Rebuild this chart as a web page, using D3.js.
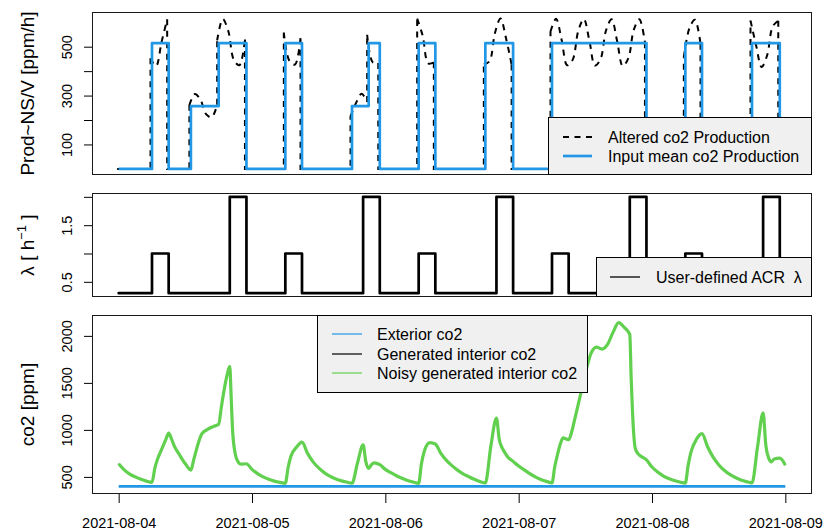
<!DOCTYPE html>
<html><head><meta charset="utf-8">
<script src="https://cdn.jsdelivr.net/npm/d3@7"></script>
<style>
body{margin:0;background:#fff}
svg{display:block}
text{font-family:"Liberation Sans",Arial,Helvetica,sans-serif;fill:#000}
</style>
</head><body>
<svg id="c" width="833" height="531"></svg>
<script>
// ---------------- DATA (hours since 2021-08-04 00:00 UTC) ----------------
const dayTickLabels = ["2021-08-04","2021-08-05","2021-08-06","2021-08-07","2021-08-08","2021-08-09"];

// Input mean CO2 production (step function, value holds from hour until next hour)
const prodStepHours  = [0,6,9,13,18,23,30,33,42,45,47,54,57,66,71,78,95,102,105,114,119,120];
const prodStepValues = [0,515,0,257,515,0,515,0,257,515,0,515,0,515,0,515,0,515,0,515,0];

// Altered CO2 production: runs starting at given hour, hourly values
const alteredRunStart = [6,13,18,30,42,45,54,66,78,102,114];
const alteredRunValues = [
  [453,421,520,612],
  [261,306,283,224,211,262],
  [526,613,564,446,424,529],
  [558,442,427,535],
  [215,270,307,274],
  [549,436,433],
  [615,544,432,436],
  [428,440,556,615,534,427],
  [562,614,528,424,447,565,613,525,423,449,567,612,522,421,452,570,612,518],
  [457,575,610,512],
  [607,506,417,465,583,606]
];

// User-defined air change rate lambda (step function)
const lambdaStepHours  = [0,6,9,20,23,30,33,44,47,54,57,68,71,78,81,92,95,102,105,116,119,120];
const lambdaStepValues = [0.3,1,0.3,2,0.3,1,0.3,2,0.3,1,0.3,2,0.3,1,0.3,2,0.3,1,0.3,2,0.3];

// Exterior CO2
const exteriorHours  = [0,120];
const exteriorValues = [400,400];

// Generated interior CO2
const co2Hours = [0,1,2,3,4,5,6, 6.5,7,7.5,8,8.5,9, 9.5,10,11,12,13, 13.5,14,14.5,15,16,17,18,
  18.5,19,19.5,20,20.25,20.5,21,21.5,22,23, 24,25,26,27,28,29,30, 30.5,31,32,33,
  34,35,36,37,38,39,40,41,42, 43,44,44.5,45,45.5,46,47, 48,49,50,51,52,53,54,
  54.5,55,56,57, 58,59,60,61,62,63,64,65,66, 67,68,68.5,69,69.5,70,71,
  72,73,74,75,76,77,78, 78.5,79,79.5,80,80.5,81,81.5,82,83,84,85,86,87,88,89,90,91,92,
  92.25,92.5,93,93.5,94,95, 96,97,98,99,100,101,102, 102.5,103,104,105,
  106,107,108,109,110,111,112,113,114, 115,116,116.5,117,117.5,118,119,120];
const co2Values = [640,575,530,500,475,455,442, 590,690,760,830,900,965, 905,830,730,640,572,
  680,790,890,960,1005,1035,1060, 1250,1430,1580,1675,1350,1000,740,660,635,640,
  580,535,500,475,455,442,432, 600,720,815,870, 750,660,595,545,508,480,460,445,433,
  650,840,660,590,630,650,630, 580,545,512,485,462,445,432, 640,770,865,850,
  750,675,620,572,533,503,475,452,435, 830,1125,900,810,760,715,665,
  615,575,535,500,472,452,437, 610,740,850,915,905,895,970,1090,1340,1600,1810,1880,1860,1910,2040,2140,2090,2015,
  1550,1180,800,745,720,680, 605,552,512,483,462,446,434, 620,760,900,960,
  820,710,630,570,526,493,468,450,437, 820,1180,830,700,660,690,700,625];

// Axis ticks
const topTicks = [100,200,300,400,500], topLabeled = [100,300,500];
const midTicks = [0.5,1,1.5,2], midLabeled = [0.5,1.5];
const botTicks = [500,1000,1500,2000], botLabeled = [500,1000,1500,2000];

// ---------------- DRAWING ----------------
const BLUE = "#2297E6", GREEN = "#61D04F";
const svg = d3.select("#c");
const T0 = Date.UTC(2021,7,4), HMS = 3600e3;
const hd = h => new Date(T0 + h*HMS);
const L = 92, R = 812;
const x = d3.scaleUtc().domain([hd(-4.8), hd(124.8)]).range([L, R]);

const P = {top:[12,175], mid:[193,297], bot:[315,494]};
const yTop = d3.scaleLinear().domain([-25,642]).range([P.top[1], P.top[0]]);
const yMid = d3.scaleLinear().domain([0.232,2.068]).range([P.mid[1], P.mid[0]]);
const yBot = d3.scaleLinear().domain([318,2222]).range([P.bot[1], P.bot[0]]);

const defs = svg.append("defs");
function panel(name, [t,b]) {
  defs.append("clipPath").attr("id","clip-"+name)
    .append("rect").attr("x",L).attr("y",t).attr("width",R-L).attr("height",b-t);
  return svg.append("g").attr("clip-path",`url(#clip-${name})`);
}
function box([t,b]) {
  svg.append("rect").attr("x",L+0.5).attr("y",t+0.5).attr("width",R-L-1).attr("height",b-t-1)
    .attr("fill","none").attr("stroke","#1a1a1a").attr("stroke-width",1);
}
function yAxis(scale, ticks, labeled) {
  const g = svg.append("g").attr("transform",`translate(${L},0)`)
    .call(d3.axisLeft(scale).tickValues(ticks).tickSize(8).tickPadding(0)
      .tickFormat(d => labeled.includes(d) ? String(d) : ""));
  g.attr("font-family",null).attr("font-size",null);
  g.select(".domain").remove();
  g.selectAll(".tick line").attr("stroke","#000");
  g.selectAll(".tick text").attr("transform","rotate(-90)").attr("x",0).attr("y",-20)
    .attr("dy",0).attr("text-anchor","middle").style("font-size","14.5px").attr("fill","#000");
}
function yTitle(txt, cy) {
  return svg.append("text").attr("transform",`translate(34,${cy}) rotate(-90)`)
    .attr("text-anchor","middle").style("font-size","19px").text(txt);
}

const lineT = (ys, curve) => d3.line().x(d => x(hd(d[0]))).y(d => ys(d[1])).curve(curve || d3.curveLinear);

// ---- Top panel ----
const gTop = panel("top", P.top);
// altered production (dashed)
const runs = alteredRunStart.map((s,i) => ({s, vals: alteredRunValues[i], e: s + alteredRunValues[i].length - 1}));
const pieces = [];
let cur = [[0,0]];
runs.forEach((r,i) => {
  const prev = runs[i-1];
  if (prev && prev.e === r.s) {
    pieces.push([[r.s, prev.vals[prev.vals.length-1]],[r.s, r.vals[0]]]);
  } else {
    cur.push([r.s,0],[r.s,r.vals[0]]);
    pieces.push(cur);
  }
  const next = runs[i+1];
  cur = (next && next.s === r.e) ? null : [[r.e, r.vals[r.vals.length-1]],[r.e,0]];
});
if (cur) { cur.push([120,0]); pieces.push(cur); }
let dStr = pieces.map(p => lineT(yTop)(p)).join("");
dStr += runs.map(r => lineT(yTop, d3.curveCatmullRom.alpha(0.5))(r.vals.map((v,k)=>[r.s+k, v]))).join("");
gTop.append("path").attr("d", dStr).attr("transform","translate(-1.5,0)")
  .attr("fill","none").attr("stroke","#000").attr("stroke-width",2).attr("stroke-dasharray","6,5.5");
// mean production (blue step)
const meanPts = prodStepHours.map((h,i) => [h, prodStepValues[Math.min(i, prodStepValues.length-1)]]);
gTop.append("path").attr("d", lineT(yTop, d3.curveStepAfter)(meanPts))
  .attr("fill","none").attr("stroke",BLUE).attr("stroke-width",2.7).attr("stroke-linejoin","round");
box(P.top);
yAxis(yTop, topTicks, topLabeled);
yTitle("Prod~NS/V [ppm/h]", (P.top[0]+P.top[1])/2);
// legend top
{
  const lx0 = 548, ly0 = 117, lx1 = 812, ly1 = 175;
  svg.append("rect").attr("x",lx0+0.5).attr("y",ly0+0.5).attr("width",lx1-lx0-1).attr("height",ly1-ly0-1)
    .attr("fill","#f0f0f0").attr("stroke","#000");
  svg.append("line").attr("x1",563).attr("x2",592).attr("y1",137).attr("y2",137)
    .attr("stroke","#000").attr("stroke-width",2).attr("stroke-dasharray","6,5.5");
  svg.append("line").attr("x1",563).attr("x2",592).attr("y1",156).attr("y2",156)
    .attr("stroke",BLUE).attr("stroke-width",2.7);
  svg.append("text").attr("x",608).attr("y",142.5).style("font-size","16px").text("Altered co2 Production");
  svg.append("text").attr("x",608).attr("y",161.5).style("font-size","16px").text("Input mean co2 Production");
}

// ---- Middle panel ----
const gMid = panel("mid", P.mid);
const lamPts = lambdaStepHours.map((h,i) => [h, lambdaStepValues[Math.min(i, lambdaStepValues.length-1)]]);
gMid.append("path").attr("d", lineT(yMid, d3.curveStepAfter)(lamPts))
  .attr("fill","none").attr("stroke","#000").attr("stroke-width",2.7).attr("stroke-linejoin","round").attr("stroke-linecap","round");
box(P.mid);
yAxis(yMid, midTicks, midLabeled);
{
  const t = svg.append("text").attr("transform",`translate(34,${(P.mid[0]+P.mid[1])/2}) rotate(-90)`)
    .attr("text-anchor","middle").style("font-size","19px");
  t.append("tspan").text("λ [ h");
  t.append("tspan").attr("dy",-8).style("font-size","13px").text("−1");
  t.append("tspan").attr("dy",8).text(" ]");
}
{
  const lx0 = 596, ly0 = 257, lx1 = 812, ly1 = 297;
  svg.append("rect").attr("x",lx0+0.5).attr("y",ly0+0.5).attr("width",lx1-lx0-1).attr("height",ly1-ly0-1)
    .attr("fill","#f0f0f0").attr("stroke","#000");
  svg.append("line").attr("x1",610).attr("x2",640).attr("y1",277).attr("y2",277)
    .attr("stroke","#000").attr("stroke-width",1.3);
  svg.append("text").attr("x",656).attr("y",282.5).style("font-size","16px").text("User-defined ACR\u00A0\u00A0λ");
}

// ---- Bottom panel ----
const gBot = panel("bot", P.bot);
gBot.append("path").attr("d", lineT(yBot)(exteriorHours.map((h,i)=>[h, exteriorValues[i]])))
  .attr("fill","none").attr("stroke",BLUE).attr("stroke-width",2.7);
const co2Pts = co2Hours.map((h,i)=>[h, co2Values[i]]);
gBot.append("path").attr("d", lineT(yBot, d3.curveMonotoneX)(co2Pts))
  .attr("fill","none").attr("stroke","#000").attr("stroke-width",1);
gBot.append("path").attr("d", lineT(yBot, d3.curveMonotoneX)(co2Pts))
  .attr("fill","none").attr("stroke",GREEN).attr("stroke-width",3.2).attr("stroke-linejoin","round");
box(P.bot);
yAxis(yBot, botTicks, botLabeled);
yTitle("co2 [ppm]", (P.bot[0]+P.bot[1])/2);
// x axis
{
  const g = svg.append("g").attr("transform",`translate(0,${P.bot[1]})`)
    .call(d3.axisBottom(x).tickValues(dayTickLabels.map((d,i)=>hd(24*i))).tickSize(9)
      .tickFormat((d,i)=>dayTickLabels[i]));
  g.attr("font-family",null).attr("font-size",null);
  g.select(".domain").remove();
  g.selectAll(".tick line").attr("stroke","#000");
  g.selectAll(".tick text").attr("y",34).attr("dy",0).style("font-size","14.5px").attr("fill","#000");
}
// legend bottom
{
  const lx0 = 317, ly0 = 315, lx1 = 588, ly1 = 393;
  svg.append("rect").attr("x",lx0+0.5).attr("y",ly0+0.5).attr("width",lx1-lx0-1).attr("height",ly1-ly0-1)
    .attr("fill","#f0f0f0").attr("stroke","#000");
  const rows = [["Exterior co2",BLUE,334],["Generated interior co2","#000",354],["Noisy generated interior co2",GREEN,373]];
  rows.forEach(([t,c,yy]) => {
    svg.append("line").attr("x1",332).attr("x2",362).attr("y1",yy).attr("y2",yy).attr("stroke",c).attr("stroke-width",1.2);
    svg.append("text").attr("x",377).attr("y",yy+5.5).style("font-size","16px").text(t);
  });
}
</script>
</body></html>
